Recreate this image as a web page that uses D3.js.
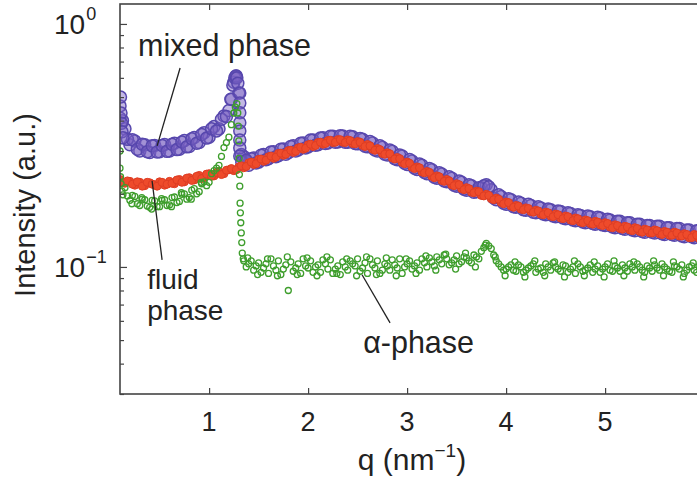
<!DOCTYPE html>
<html><head><meta charset="utf-8">
<script src="https://cdn.jsdelivr.net/npm/d3@7"></script>
<style>
html,body{margin:0;padding:0;background:#fff;}
svg{display:block;}
text{font-family:"Liberation Sans",Arial,Helvetica,sans-serif;fill:#222;}
</style>
</head><body>
<svg id="chart" width="697" height="488"></svg>
<script>
// ---------------- DATA ----------------
const qGrid = [0.10,0.15,0.20,0.25,0.30,0.35,0.40,0.45,0.50,0.55,0.60,0.65,0.70,0.75,0.80,0.85,0.90,0.95,
1.00,1.05,1.10,1.15,1.20,1.25,1.30,1.35,1.40,1.45,1.50,1.55,1.60,1.65,1.70,1.75,1.80,1.85,1.90,1.95,
2.00,2.05,2.10,2.15,2.20,2.25,2.30,2.35,2.40,2.45,2.50,2.55,2.60,2.65,2.70,2.75,2.80,2.85,2.90,2.95,
3.00,3.05,3.10,3.15,3.20,3.25,3.30,3.35,3.40,3.45,3.50,3.55,3.60,3.65,3.70,3.75,3.80,3.85,3.90,3.95,
4.00,4.05,4.10,4.15,4.20,4.25,4.30,4.35,4.40,4.45,4.50,4.55,4.60,4.65,4.70,4.75,4.80,4.85,4.90,4.95,
5.00,5.05,5.10,5.15,5.20,5.25,5.30,5.35,5.40,5.45,5.50,5.55,5.60,5.65,5.70,5.75,5.80,5.85,5.90,5.95];
const qHalf = [0.125,0.175,0.225,0.275,0.325,0.375,0.425,0.475,0.525,0.575,0.625,0.675,0.725,0.775,0.825,0.875,0.925,0.975,
1.025,1.075,1.125,1.175,1.225,1.275,1.325,1.375,1.425,1.475,1.525,1.575,1.625,1.675,1.725,1.775,1.825,1.875,1.925,1.975,
2.025,2.075,2.125,2.175,2.225,2.275,2.325,2.375,2.425,2.475,2.525,2.575,2.625,2.675,2.725,2.775,2.825,2.875,2.925,2.975,
3.025,3.075,3.125,3.175,3.225,3.275,3.325,3.375,3.425,3.475,3.525,3.575,3.625,3.675,3.725,3.775,3.825,3.875,3.925,3.975,
4.025,4.075,4.125,4.175,4.225,4.275,4.325,4.375,4.425,4.475,4.525,4.575,4.625,4.675,4.725,4.775,4.825,4.875,4.925,4.975,
5.025,5.075,5.125,5.175,5.225,5.275,5.325,5.375,5.425,5.475,5.525,5.575,5.625,5.675,5.725,5.775,5.825,5.875,5.925,5.975];

// fluid phase (red)
const fluidI = [0.229,0.221,0.225,0.217,0.223,0.216,0.222,0.218,0.224,0.217,0.225,0.220,0.229,0.224,0.233,0.228,0.238,0.233,
0.242,0.237,0.247,0.242,0.251,0.249,0.258,0.256,0.268,0.264,0.277,0.272,0.284,0.280,0.293,0.288,0.301,0.296,0.309,0.305,
0.318,0.313,0.325,0.320,0.331,0.325,0.334,0.326,0.333,0.322,0.328,0.316,0.319,0.305,0.307,0.293,0.295,0.281,0.282,0.269,
0.270,0.257,0.258,0.246,0.247,0.236,0.237,0.227,0.229,0.218,0.220,0.210,0.212,0.203,0.205,0.197,0.199,0.191,0.192,0.184,
0.185,0.178,0.179,0.173,0.175,0.169,0.171,0.165,0.168,0.162,0.165,0.159,0.162,0.156,0.159,0.153,0.156,0.151,0.154,0.149,
0.152,0.146,0.149,0.144,0.147,0.142,0.145,0.140,0.143,0.138,0.142,0.137,0.140,0.135,0.139,0.134,0.137,0.132,0.136,0.131];
const fluidI2 = [0.223,0.226,0.219,0.224,0.215,0.223,0.219,0.215,0.223,0.219,0.221,0.228,0.223,0.232,0.227,0.236,0.231,0.241,
0.236,0.245,0.240,0.250,0.254,0.251,0.261,0.259,0.270,0.266,0.278,0.275,0.286,0.283,0.294,0.291,0.302,0.299,0.311,0.308,
0.320,0.316,0.326,0.322,0.332,0.326,0.334,0.325,0.331,0.321,0.326,0.313,0.315,0.302,0.304,0.291,0.292,0.278,0.279,0.266,
0.267,0.254,0.256,0.244,0.245,0.233,0.235,0.225,0.226,0.216,0.218,0.208,0.210,0.202,0.204,0.196,0.197,0.189,0.190,0.182,
0.184,0.176,0.178,0.172,0.174,0.168,0.170,0.164,0.167,0.161,0.164,0.158,0.161,0.155,0.158,0.152,0.155,0.150,0.153,0.148,
0.151,0.145,0.148,0.143,0.146,0.141,0.144,0.139,0.142,0.138,0.141,0.136,0.139,0.135,0.138,0.134,0.136,0.132,0.135,0.131];

// mixed phase (purple)
const mixedI = [0.46,0.37,0.318,0.330,0.300,0.318,0.296,0.316,0.298,0.319,0.300,0.323,0.305,0.331,0.313,0.341,0.325,0.357,
0.342,0.378,0.370,0.418,0.440,0.575,0.52,0.285,0.262,0.281,0.270,0.290,0.279,0.298,0.287,0.306,0.295,0.315,0.303,0.324,
0.312,0.333,0.318,0.340,0.324,0.345,0.327,0.346,0.326,0.343,0.321,0.335,0.312,0.324,0.300,0.311,0.289,0.299,0.276,0.286,
0.264,0.273,0.252,0.262,0.242,0.251,0.232,0.241,0.224,0.232,0.215,0.223,0.207,0.216,0.204,0.212,0.218,0.208,0.189,0.195,
0.181,0.189,0.176,0.183,0.171,0.179,0.167,0.175,0.164,0.172,0.161,0.169,0.158,0.166,0.155,0.163,0.152,0.161,0.150,0.159,
0.148,0.156,0.145,0.154,0.143,0.152,0.141,0.150,0.139,0.148,0.138,0.147,0.136,0.145,0.135,0.144,0.133,0.142,0.132,0.141];
const mixedI2 = [0.40,0.335,0.334,0.305,0.320,0.298,0.315,0.297,0.316,0.299,0.320,0.304,0.327,0.312,0.337,0.323,0.351,0.339,
0.370,0.363,0.405,0.416,0.49,0.61,0.29,0.272,0.279,0.268,0.288,0.276,0.297,0.284,0.305,0.291,0.313,0.300,0.323,0.309,
0.333,0.317,0.339,0.322,0.345,0.326,0.347,0.326,0.345,0.322,0.338,0.314,0.328,0.303,0.315,0.291,0.303,0.279,0.289,0.267,
0.277,0.255,0.265,0.245,0.254,0.234,0.244,0.226,0.235,0.217,0.226,0.209,0.218,0.203,0.212,0.216,0.214,0.192,0.198,0.183,
0.191,0.177,0.185,0.172,0.181,0.168,0.177,0.165,0.173,0.162,0.170,0.159,0.167,0.156,0.164,0.153,0.162,0.151,0.160,0.149,
0.157,0.146,0.154,0.144,0.152,0.142,0.150,0.140,0.148,0.139,0.147,0.137,0.145,0.136,0.144,0.134,0.142,0.133,0.141,0.132];
const mixedExtraQ = [0.10,0.105,0.11,0.115,0.12,0.13,1.22,1.24,1.26,1.27,1.28,1.29,1.31,1.31,1.31,1.31,1.31,1.31,1.31,1.31,1.33,1.375];
const mixedExtraI = [0.41,0.50,0.43,0.39,0.36,0.34,0.49,0.56,0.60,0.61,0.60,0.57,0.52,0.473,0.431,0.392,0.363,0.333,0.309,0.286,0.27,0.275];

// alpha phase (green)
const alphaQ = [0.10,0.10,0.105,0.11,0.12,0.13,
0.15,0.20,0.25,0.30,0.35,0.40,0.45,0.50,0.55,0.60,0.65,0.70,0.75,0.80,0.85,0.90,0.95,1.00,1.05,
1.075,1.10,1.125,1.15,1.175,1.20,1.225,1.25,1.265,1.28,
1.29,1.295,1.30,1.303,1.306,1.31,1.313,1.316,1.32,1.325,1.33,1.335,1.345,
1.35,1.40,1.45,1.50,1.55,1.60,1.65,1.70,1.75,1.80,1.85,1.90,1.95,
2.00,2.05,2.10,2.15,2.20,2.25,2.30,2.35,2.40,2.45,2.50,2.55,2.60,2.65,2.70,2.75,2.80,2.85,2.90,2.95,
3.00,3.05,3.10,3.15,3.20,3.25,3.30,3.35,3.40,3.45,3.50,3.55,3.60,3.65,3.70,3.75,3.80,3.85,3.90,3.95,
4.00,4.05,4.10,4.15,4.20,4.25,4.30,4.35,4.40,4.45,4.50,4.55,4.60,4.65,4.70,4.75,4.80,4.85,4.90,4.95,
5.00,5.05,5.10,5.15,5.20,5.25,5.30,5.35,5.40,5.45,5.50,5.55,5.60,5.65,5.70,5.75,5.80,5.85,5.90,5.95];
const alphaI = [0.30,0.255,0.235,0.22,0.205,0.198,
0.212,0.188,0.195,0.179,0.189,0.176,0.187,0.177,0.189,0.180,0.194,0.186,0.200,0.193,0.210,0.204,0.224,0.223,0.249,
0.255,0.262,0.285,0.310,0.325,0.342,0.385,0.43,0.455,0.47,
0.43,0.38,0.33,0.28,0.24,0.215,0.183,0.167,0.152,0.138,0.126,0.114,0.108,
0.106,0.103,0.097,0.104,0.099,0.094,0.101,0.106,0.098,0.080,0.096,0.103,0.108,
0.099,0.095,0.102,0.107,0.098,0.094,0.101,0.105,0.097,0.103,0.108,0.099,0.094,0.102,0.106,0.097,0.101,0.107,0.099,0.094,
0.103,0.098,0.104,0.108,0.100,0.105,0.110,0.103,0.108,0.104,0.111,0.105,0.109,0.104,0.110,0.116,0.125,0.119,0.106,0.100,
0.098,0.102,0.096,0.100,0.097,0.101,0.095,0.099,0.103,0.097,0.100,0.096,0.101,0.098,0.094,0.100,0.097,0.102,0.098,0.095,
0.100,0.097,0.101,0.096,0.099,0.103,0.097,0.100,0.095,0.099,0.102,0.097,0.100,0.096,0.101,0.098,0.094,0.100,0.097,0.101];
const alphaQ2 = [0.175,0.225,0.275,0.325,0.375,0.425,0.475,0.525,0.575,0.625,0.675,0.725,0.775,0.825,0.875,0.925,0.975,1.025,
1.375,1.425,1.475,1.525,1.575,1.625,1.675,1.725,1.775,1.825,1.875,1.925,1.975,
2.025,2.075,2.125,2.175,2.225,2.275,2.325,2.375,2.425,2.475,2.525,2.575,2.625,2.675,2.725,2.775,2.825,2.875,2.925,2.975,
3.025,3.075,3.125,3.175,3.225,3.275,3.325,3.375,3.425,3.475,3.525,3.575,3.625,3.675,3.725,3.775,3.825,3.875,3.925,3.975,
4.025,4.075,4.125,4.175,4.225,4.275,4.325,4.375,4.425,4.475,4.525,4.575,4.625,4.675,4.725,4.775,4.825,4.875,4.925,4.975,
5.025,5.075,5.125,5.175,5.225,5.275,5.325,5.375,5.425,5.475,5.525,5.575,5.625,5.675,5.725,5.775,5.825,5.875,5.925,5.975];
const alphaI2 = [0.196,0.197,0.182,0.190,0.178,0.188,0.177,0.188,0.179,0.193,0.184,0.199,0.190,0.207,0.200,0.220,0.216,0.242,
0.100,0.106,0.101,0.095,0.103,0.108,0.097,0.093,0.102,0.105,0.099,0.094,0.101,
0.106,0.100,0.095,0.103,0.107,0.098,0.093,0.100,0.106,0.101,0.096,0.104,0.108,0.099,0.094,0.103,0.097,0.102,0.108,0.100,
0.106,0.101,0.097,0.104,0.109,0.101,0.107,0.112,0.102,0.107,0.103,0.110,0.106,0.112,0.108,0.120,0.122,0.112,0.103,0.097,
0.100,0.097,0.102,0.095,0.099,0.103,0.098,0.095,0.100,0.104,0.098,0.102,0.095,0.100,0.103,0.096,0.099,0.095,0.101,0.098,
0.103,0.096,0.099,0.102,0.096,0.100,0.103,0.097,0.101,0.096,0.099,0.103,0.098,0.095,0.100,0.102,0.097,0.101,0.095,0.099];
// wider-scattered alpha points
const alphaQ3 = [0.22,0.32,0.42,0.52,0.62,0.72,0.82,0.92,
1.39,1.49,1.59,1.69,1.79,1.89,1.99,2.09,2.19,2.29,2.39,2.49,2.59,2.69,2.79,2.89,2.99,3.09,3.19,3.29,3.39,3.49,3.59,3.69,3.79,3.89,
3.99,4.09,4.19,4.29,4.39,4.49,4.59,4.69,4.79,4.89,4.99,5.09,5.19,5.29,5.39,5.49,5.59,5.69,5.79,5.89];
const alphaI3 = [0.182,0.193,0.173,0.191,0.177,0.202,0.190,0.223,
0.109,0.093,0.108,0.092,0.110,0.093,0.109,0.092,0.110,0.094,0.108,0.092,0.110,0.093,0.109,0.092,0.108,0.094,0.111,0.097,0.113,0.098,0.114,0.100,0.123,0.110,
0.092,0.105,0.091,0.106,0.092,0.105,0.091,0.106,0.092,0.105,0.091,0.106,0.092,0.105,0.091,0.106,0.092,0.105,0.091,0.104];

const xTickValues = [1,2,3,4,5];
const xTickLabels = ["1","2","3","4","5"];
const yMajorTicks = [0.1, 1];
const yMajorExp = ["−1", "0"];
const yMinorTicks = [0.03,0.04,0.05,0.06,0.07,0.08,0.09,0.2,0.3,0.4,0.5,0.6,0.7,0.8,0.9];

// annotation anchors in data space
const annotations = [
  {lines:["mixed phase"], tq:0.283, tI:0.739, size:30.5, gap:0, from:[0.707,0.659], to:[0.475,0.315]},
  {lines:["fluid","phase"], tq:0.374, tI:0.0815, size:28, gap:31.5, from:[0.424,0.226], to:[0.525,0.107]},
  {lines:["α-phase"], tq:2.556, tI:0.0443, size:30.5, gap:0, from:[2.828,0.0589], to:[2.545,0.0929]}
];

// ---------------- CHART ----------------
(function(){
const svg = d3.select("#chart");
const pL = 120, pT = 4, pB = 394;
const x = d3.scaleLinear().domain([0.1, 6.0]).range([pL, 704.1]);
const y = d3.scaleLog().domain([0.03, 1.208]).range([pB, pT]);
const pR = x(6.0);
const frameColor = "#444";

svg.append("defs").append("clipPath").attr("id","plotclip")
  .append("rect").attr("x", pL).attr("y", pT).attr("width", pR-pL).attr("height", pB-pT);

const plot = svg.append("g").attr("clip-path","url(#plotclip)");

const pairs = (qs, vs) => qs.map((q,i)=>({q, I:vs[i]}));
const mixedData = pairs(qGrid, mixedI).concat(pairs(qHalf, mixedI2), pairs(mixedExtraQ, mixedExtraI));
const fluidData = pairs(qGrid, fluidI).concat(pairs(qHalf, fluidI2));
const alphaData = pairs(alphaQ, alphaI).concat(pairs(alphaQ2, alphaI2), pairs(alphaQ3, alphaI3));

plot.append("g").selectAll("circle").data(mixedData).join("circle")
  .attr("cx", d=>x(d.q)).attr("cy", d=>y(d.I)).attr("r", 6)
  .attr("fill","#7a62c4").attr("fill-opacity",0.45)
  .attr("stroke","#5747ad").attr("stroke-width",1.5);

plot.append("g").selectAll("circle").data(fluidData).join("circle")
  .attr("cx", d=>x(d.q)).attr("cy", d=>y(d.I)).attr("r", 4)
  .attr("fill","#ee4b2b").attr("stroke","#de3d24").attr("stroke-width",1);

plot.append("g").selectAll("circle").data(alphaData).join("circle")
  .attr("cx", d=>x(d.q)).attr("cy", d=>y(d.I)).attr("r", 3)
  .attr("fill","none").attr("stroke","#3e9e2c").attr("stroke-width",1.3);

function styleTicks(g){ g.select(".domain").remove(); g.selectAll(".tick line").attr("stroke",frameColor).attr("stroke-width",1.2); }
svg.append("g").attr("transform",`translate(0,${pB})`)
  .call(d3.axisTop(x).tickValues(xTickValues).tickSize(6).tickFormat("")).call(styleTicks);
svg.append("g").attr("transform",`translate(0,${pT})`)
  .call(d3.axisBottom(x).tickValues(xTickValues).tickSize(6).tickFormat("")).call(styleTicks);
svg.append("g").attr("transform",`translate(${pL},0)`)
  .call(d3.axisRight(y).tickValues(yMajorTicks).tickSize(7).tickFormat("")).call(styleTicks);
svg.append("g").attr("transform",`translate(${pL},0)`)
  .call(d3.axisRight(y).tickValues(yMinorTicks).tickSize(4).tickFormat("")).call(styleTicks);
svg.append("g").attr("transform",`translate(${pR},0)`)
  .call(d3.axisLeft(y).tickValues(yMajorTicks).tickSize(7).tickFormat("")).call(styleTicks);
svg.append("g").attr("transform",`translate(${pR},0)`)
  .call(d3.axisLeft(y).tickValues(yMinorTicks).tickSize(4).tickFormat("")).call(styleTicks);

svg.append("rect").attr("x",pL).attr("y",pT).attr("width",pR-pL).attr("height",pB-pT)
  .attr("fill","none").attr("stroke",frameColor).attr("stroke-width",1.6);

svg.append("g").selectAll("text").data(xTickValues).join("text")
  .attr("x", d=>x(d)).attr("y", 431).attr("text-anchor","middle")
  .attr("font-size",27).text((d,i)=>xTickLabels[i]);

yMajorTicks.forEach((v,i)=>{
  const t = svg.append("text").attr("x",54).attr("y",y(v)+10.5).attr("font-size",28);
  t.append("tspan").text("10");
  t.append("tspan").attr("font-size",18).attr("dx",1).attr("dy",-14).text(yMajorExp[i]);
});

svg.append("text").attr("transform","translate(35,205) rotate(-90)")
  .attr("text-anchor","middle").attr("font-size",29).text("Intensity (a.u.)");
const xt = svg.append("text").attr("x",412).attr("y",470).attr("text-anchor","middle").attr("font-size",30);
xt.append("tspan").text("q (nm");
xt.append("tspan").attr("font-size",19).attr("dy",-13).text("−1");
xt.append("tspan").attr("dy",13).text(")");

annotations.forEach(a=>{
  svg.append("line")
    .attr("x1",x(a.from[0])).attr("y1",y(a.from[1]))
    .attr("x2",x(a.to[0])).attr("y2",y(a.to[1]))
    .attr("stroke","#222").attr("stroke-width",1.3);
  a.lines.forEach((ln,k)=>{
    svg.append("text").attr("x",x(a.tq)).attr("y",y(a.tI)+k*a.gap)
      .attr("font-size",a.size).text(ln);
  });
});
})();
</script>
</body></html>
